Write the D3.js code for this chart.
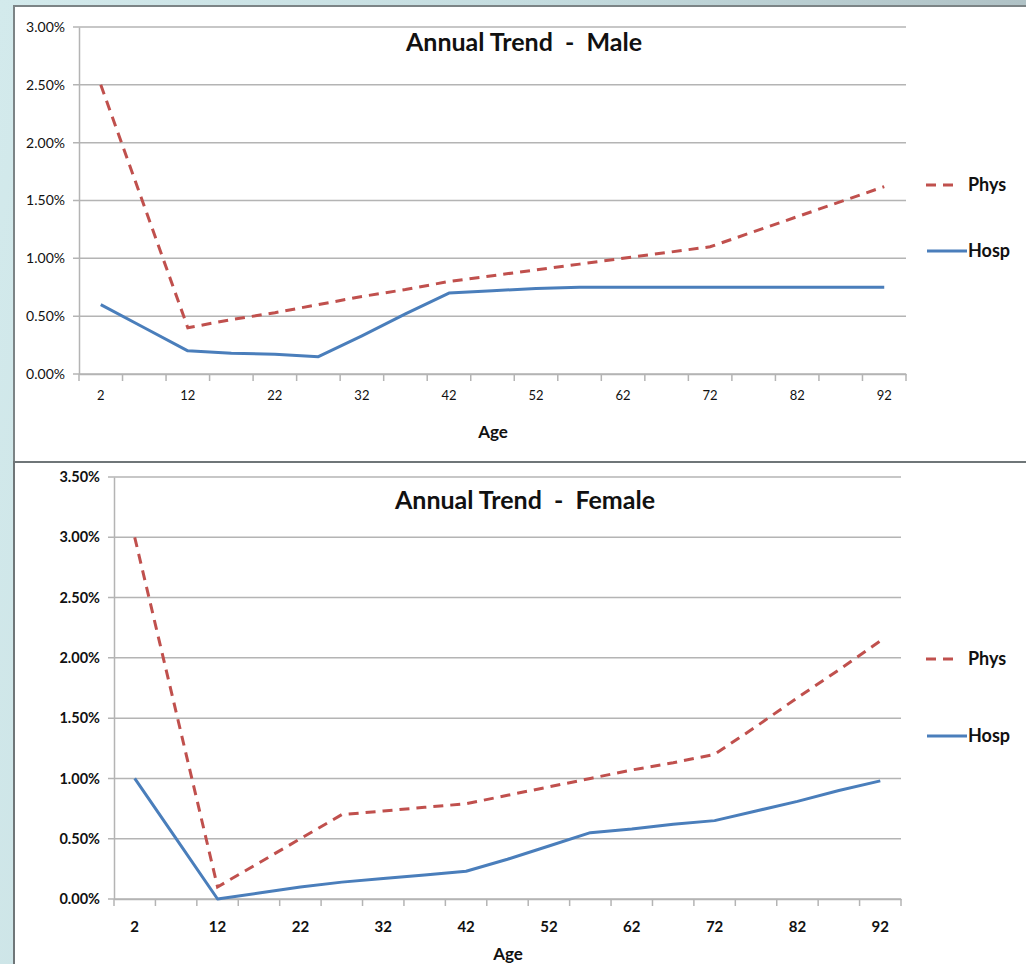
<!DOCTYPE html>
<html>
<head>
<meta charset="utf-8">
<script src="https://cdn.jsdelivr.net/npm/d3@7"></script>
<style>
  html, body { margin: 0; padding: 0; }
  body {
    width: 1026px; height: 964px; overflow: hidden;
    background: linear-gradient(100deg, #d3eaec 0%, #c4dcdf 45%, #a9b9bd 100%);
    font-family: Lato, "Open Sans", sans-serif;
  }
</style>
</head>
<body>
<svg id="chart" width="1026" height="964"></svg>
<script>
// age groups (5 year steps), labels shown every other one
const ages = [2, 7, 12, 17, 22, 27, 32, 37, 42, 47, 52, 57, 62, 67, 72, 77, 82, 87, 92];

// annual trend, percent
const malePhys = [2.50, 1.45, 0.40, 0.47, 0.53, 0.60, 0.67, 0.73, 0.80, 0.85, 0.90, 0.95, 1.00, 1.05, 1.10, 1.23, 1.36, 1.49, 1.62];
const maleHosp = [0.60, 0.40, 0.20, 0.18, 0.17, 0.15, 0.33, 0.52, 0.70, 0.72, 0.74, 0.75, 0.75, 0.75, 0.75, 0.75, 0.75, 0.75, 0.75];
const femalePhys = [3.00, 1.55, 0.10, 0.30, 0.50, 0.70, 0.73, 0.76, 0.79, 0.86, 0.93, 1.00, 1.07, 1.13, 1.20, 1.43, 1.67, 1.90, 2.14];
const femaleHosp = [1.00, 0.50, 0.00, 0.05, 0.10, 0.14, 0.17, 0.20, 0.23, 0.33, 0.44, 0.55, 0.58, 0.62, 0.65, 0.73, 0.81, 0.90, 0.98];

const maleTicks = [0, 0.5, 1.0, 1.5, 2.0, 2.5, 3.0];
const femaleTicks = [0, 0.5, 1.0, 1.5, 2.0, 2.5, 3.0, 3.5];

const physColor = "#c0504d";
const hospColor = "#4a7ebb";

const svg = d3.select("#chart");

// white panels
svg.append("rect").attr("x", 14).attr("y", 6).attr("width", 1020).attr("height", 456)
  .attr("fill", "#fff").attr("stroke", "#7c8486").attr("stroke-width", 2);
svg.append("rect").attr("x", 14).attr("y", 462).attr("width", 1020).attr("height", 510)
  .attr("fill", "#fff").attr("stroke", "#6f7678").attr("stroke-width", 2);

function drawPanel(opt) {
  const g = svg.append("g");
  const x = d3.scaleBand().domain(ages).range([opt.x0, opt.x1]);
  const y = d3.scaleLinear().domain([0, opt.ymax]).range([opt.y0, opt.y1]);

  // gridlines
  g.selectAll(".grid").data(opt.yticks).enter().append("line")
    .attr("x1", opt.x0 - 6).attr("x2", opt.x1)
    .attr("y1", d => y(d)).attr("y2", d => y(d))
    .attr("stroke", "#b4b4b4").attr("stroke-width", 1.5);

  // y axis
  const yAxis = d3.axisLeft(y).tickValues(opt.yticks).tickSize(0).tickPadding(14)
    .tickFormat(d => d.toFixed(2) + "%");
  const ya = g.append("g").attr("transform", `translate(${opt.x0},0)`).call(yAxis);
  ya.select(".domain").attr("stroke", "#b4b4b4").attr("stroke-width", 1.5);
  ya.selectAll("text").attr("font-family", "Lato, sans-serif")
    .attr("font-size", opt.ySize).attr("font-weight", opt.yWeight).attr("fill", "#111");

  // x axis
  const xAxis = d3.axisBottom(x).tickValues(ages.filter((d, i) => i % 2 === 0))
    .tickSize(0).tickPadding(opt.xPad);
  const xa = g.append("g").attr("transform", `translate(0,${opt.y0})`).call(xAxis);
  xa.select(".domain").attr("stroke", "#b4b4b4").attr("stroke-width", 1.5);
  xa.selectAll("text").attr("font-family", "Lato, sans-serif")
    .attr("font-size", opt.xSize).attr("font-weight", opt.xWeight).attr("fill", "#111");

  // category boundary ticks
  const edges = ages.map(a => x(a)).concat([opt.x1]);
  g.selectAll(".bt").data(edges).enter().append("line")
    .attr("x1", d => d).attr("x2", d => d)
    .attr("y1", opt.y0).attr("y2", opt.y0 + 7)
    .attr("stroke", "#b4b4b4").attr("stroke-width", 1.5);

  const line = d3.line()
    .x((d, i) => x(ages[i]) + x.bandwidth() / 2)
    .y(d => y(d));

  g.append("path").datum(opt.hosp).attr("d", line)
    .attr("fill", "none").attr("stroke", hospColor).attr("stroke-width", 3)
    .attr("stroke-linejoin", "round");
  g.append("path").datum(opt.phys).attr("d", line)
    .attr("fill", "none").attr("stroke", physColor).attr("stroke-width", 3)
    .attr("stroke-dasharray", "10,7");

  // title
  g.append("text").attr("x", opt.titleX).attr("y", opt.titleY).attr("text-anchor", "middle")
    .attr("font-family", "Lato, sans-serif").attr("font-size", 25).attr("font-weight", "bold")
    .attr("fill", "#111").style("white-space", "pre").text(opt.title);

  // x axis title
  g.append("text").attr("x", opt.ageX).attr("y", opt.ageY).attr("text-anchor", "middle")
    .attr("font-family", "Lato, sans-serif").attr("font-size", 17).attr("font-weight", "bold")
    .attr("fill", "#111").text("Age");

  // legend
  const lg = g.append("g");
  lg.append("line").attr("x1", 926).attr("x2", 960).attr("y1", opt.legPhys).attr("y2", opt.legPhys)
    .attr("stroke", physColor).attr("stroke-width", 3).attr("stroke-dasharray", "10,7");
  lg.append("text").attr("x", 968).attr("y", opt.legPhys + 6)
    .attr("font-family", "Lato, sans-serif").attr("font-size", 18).attr("font-weight", "bold")
    .attr("fill", "#111").text("Phys");
  lg.append("line").attr("x1", 927).attr("x2", 967).attr("y1", opt.legHosp).attr("y2", opt.legHosp)
    .attr("stroke", hospColor).attr("stroke-width", 3);
  lg.append("text").attr("x", 968).attr("y", opt.legHosp + 6)
    .attr("font-family", "Lato, sans-serif").attr("font-size", 18).attr("font-weight", "bold")
    .attr("fill", "#111").text("Hosp");
}

drawPanel({
  x0: 79, x1: 906, y0: 374, y1: 27, ymax: 3.0, yticks: maleTicks,
  phys: malePhys, hosp: maleHosp,
  ySize: 14, yWeight: "normal", xSize: 13, xWeight: "normal", xPad: 17,
  title: "Annual Trend  -  Male", titleX: 524, titleY: 51,
  ageX: 493, ageY: 438, legPhys: 185, legHosp: 251
});

drawPanel({
  x0: 114, x1: 901, y0: 899, y1: 477, ymax: 3.5, yticks: femaleTicks,
  phys: femalePhys, hosp: femaleHosp,
  ySize: 14.5, yWeight: "bold", xSize: 15, xWeight: "bold", xPad: 22,
  title: "Annual Trend  -  Female", titleX: 525, titleY: 509,
  ageX: 508, ageY: 960, legPhys: 659, legHosp: 736
});
</script>
</body>
</html>
